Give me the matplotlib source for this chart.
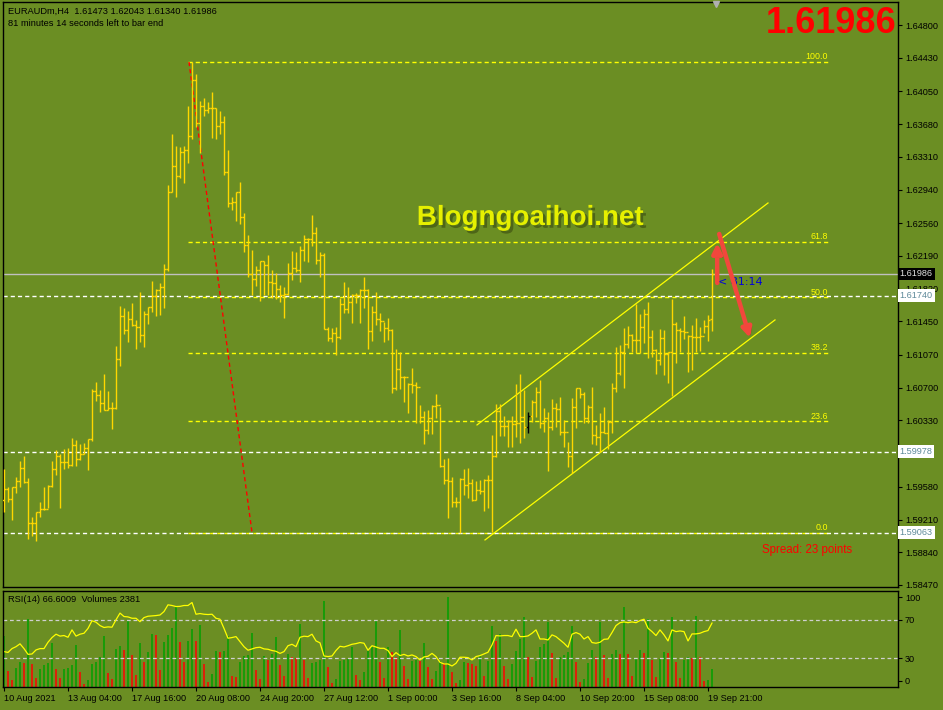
import matplotlib
matplotlib.use("Agg")
import matplotlib.pyplot as plt
import matplotlib.patheffects as pe
from matplotlib import transforms

plt.rcParams['font.family'] = ['Liberation Sans', 'DejaVu Sans']

# --- EURAUD H4 bars ---
highs = [
    1.59781, 1.59578, 1.59578, 1.59691, 1.59872, 1.59928, 1.59680, 1.59239, 1.59295, 1.59408,
    1.59578, 1.59601, 1.59872, 1.59996, 1.59951, 1.60007, 1.60019, 1.60132, 1.60109, 1.60064,
    1.60075, 1.60121, 1.60686, 1.60765, 1.60674, 1.60855, 1.60663, 1.60539, 1.61172, 1.61624,
    1.61601, 1.61568, 1.61658, 1.61466, 1.61782, 1.61568, 1.61613, 1.61907, 1.61816, 1.61884,
    1.62099, 1.62992, 1.63568, 1.63433, 1.63421, 1.63433, 1.63885, 1.64382, 1.64246, 1.63941,
    1.63975, 1.63930, 1.64043, 1.63862, 1.63828, 1.63772, 1.63387, 1.62856, 1.62913, 1.63026,
    1.62675, 1.62427, 1.62257, 1.62076, 1.62133, 1.62133, 1.62201, 1.62031, 1.61997, 1.61861,
    1.61839, 1.62110, 1.62246, 1.62234, 1.62302, 1.62427, 1.62393, 1.62653, 1.62517, 1.62234,
    1.62223, 1.61387, 1.61375, 1.61387, 1.61714, 1.61895, 1.61839, 1.61760, 1.61771, 1.61816,
    1.61952, 1.61816, 1.61624, 1.61782, 1.61545, 1.61443, 1.61488, 1.61364, 1.61138, 1.61104,
    1.60833, 1.60754, 1.60923, 1.60765, 1.60505, 1.60437, 1.60448, 1.60505, 1.60629, 1.60482,
    1.59895, 1.59906, 1.59691, 1.59465, 1.59680, 1.59781, 1.59793, 1.59668, 1.59646, 1.59657,
    1.59668, 1.59714, 1.60166, 1.60516, 1.60516, 1.60381, 1.60335, 1.60381, 1.60742, 1.60855,
    1.60674, 1.60426, 1.60561, 1.60708, 1.60788, 1.60471, 1.60426, 1.60573, 1.60528, 1.60595,
    1.60335, 1.60087, 1.60584, 1.60697, 1.60697, 1.60652, 1.60505, 1.60708, 1.60279, 1.60415,
    1.60482, 1.60335, 1.60754, 1.61161, 1.61183, 1.61375, 1.61398, 1.61308, 1.61647, 1.61534,
    1.61590, 1.61669, 1.61353, 1.61138, 1.61364, 1.61353, 1.61104, 1.61703, 1.61443, 1.61375,
    1.61511, 1.61296, 1.61409, 1.61488, 1.61387, 1.61466, 1.61522, 1.62043]
lows = [
    1.59295, 1.59408, 1.59205, 1.59510, 1.59578, 1.59623, 1.58990, 1.59024, 1.58968, 1.59239,
    1.59318, 1.59341, 1.59578, 1.59714, 1.59341, 1.59781, 1.59793, 1.59815, 1.59815, 1.59883,
    1.59951, 1.59770, 1.60098, 1.60550, 1.60426, 1.60448, 1.60448, 1.60234, 1.60460, 1.60946,
    1.61308, 1.61217, 1.61398, 1.61138, 1.61217, 1.61161, 1.61421, 1.61556, 1.61511, 1.61522,
    1.61601, 1.62020, 1.62913, 1.62856, 1.63071, 1.63014, 1.63240, 1.63512, 1.63647, 1.63354,
    1.63772, 1.63806, 1.63523, 1.63512, 1.63568, 1.63105, 1.62743, 1.62709, 1.62585, 1.62551,
    1.62234, 1.61952, 1.61748, 1.61850, 1.61681, 1.61748, 1.61748, 1.61714, 1.61703, 1.61669,
    1.61488, 1.61748, 1.61918, 1.62008, 1.61895, 1.62133, 1.62121, 1.62302, 1.62099, 1.61952,
    1.61364, 1.61228, 1.61217, 1.61070, 1.61251, 1.61545, 1.61545, 1.61432, 1.61658, 1.61432,
    1.61601, 1.61138, 1.61228, 1.61409, 1.61341, 1.61217, 1.61240, 1.60641, 1.60674, 1.60686,
    1.60539, 1.60415, 1.60641, 1.60301, 1.60301, 1.60064, 1.60177, 1.60177, 1.60358, 1.59804,
    1.59612, 1.59228, 1.59352, 1.59352, 1.59063, 1.59488, 1.59454, 1.59420, 1.59431, 1.59499,
    1.59307, 1.59341, 1.59070, 1.59917, 1.60155, 1.60155, 1.60030, 1.60030, 1.60143, 1.60075,
    1.60132, 1.60188, 1.60313, 1.60369, 1.60245, 1.60200, 1.59759, 1.60222, 1.60256, 1.60166,
    1.60030, 1.59804, 1.59736, 1.60245, 1.60584, 1.60301, 1.60301, 1.60064, 1.60053, 1.59974,
    1.60188, 1.60007, 1.60188, 1.60652, 1.60844, 1.60697, 1.61149, 1.61104, 1.61093, 1.61093,
    1.61206, 1.61036, 1.61048, 1.60855, 1.60957, 1.60844, 1.60754, 1.60607, 1.60980, 1.61104,
    1.61251, 1.60878, 1.60901, 1.61104, 1.61115, 1.61319, 1.61228, 1.61340]
closes = [
    1.59555, 1.59442, 1.59578, 1.59646, 1.59793, 1.59635, 1.59171, 1.59171, 1.59295, 1.59329,
    1.59329, 1.59589, 1.59781, 1.59928, 1.59861, 1.59861, 1.59827, 1.60053, 1.59895, 1.59951,
    1.60019, 1.60121, 1.60663, 1.60618, 1.60528, 1.60448, 1.60471, 1.60471, 1.61025, 1.61511,
    1.61353, 1.61477, 1.61409, 1.61387, 1.61296, 1.61534, 1.61613, 1.61737, 1.61805, 1.61839,
    1.62042, 1.62913, 1.63207, 1.63094, 1.63365, 1.63387, 1.63546, 1.64179, 1.63693, 1.63885,
    1.63840, 1.63862, 1.63862, 1.63659, 1.63704, 1.63139, 1.62788, 1.62800, 1.62913, 1.62630,
    1.62314, 1.61986, 1.61929, 1.62031, 1.62133, 1.62087, 1.61895, 1.61884, 1.61816, 1.61748,
    1.61760, 1.61997, 1.62054, 1.62031, 1.62257, 1.62381, 1.62381, 1.62449, 1.62144, 1.62201,
    1.61364, 1.61262, 1.61319, 1.61274, 1.61647, 1.61590, 1.61669, 1.61748, 1.61748, 1.61805,
    1.61805, 1.61341, 1.61556, 1.61477, 1.61454, 1.61375, 1.61353, 1.60697, 1.60912, 1.60821,
    1.60821, 1.60742, 1.60731, 1.60708, 1.60369, 1.60222, 1.60358, 1.60494, 1.60505, 1.59815,
    1.59657, 1.59646, 1.59408, 1.59408, 1.59668, 1.59601, 1.59623, 1.59431, 1.59544, 1.59533,
    1.59657, 1.59657, 1.59928, 1.60437, 1.60268, 1.60268, 1.60324, 1.60290, 1.60301, 1.60369,
    1.60256, 1.60381, 1.60539, 1.60652, 1.60301, 1.60358, 1.60256, 1.60471, 1.60460, 1.60200,
    1.60200, 1.59928, 1.60482, 1.60697, 1.60629, 1.60358, 1.60482, 1.60166, 1.60143, 1.60200,
    1.60188, 1.60313, 1.60697, 1.60867, 1.61104, 1.61194, 1.61296, 1.61240, 1.61240, 1.61387,
    1.61534, 1.61274, 1.61127, 1.61014, 1.61262, 1.61081, 1.61104, 1.61421, 1.61353, 1.61341,
    1.61330, 1.61285, 1.61274, 1.61274, 1.61285, 1.61398, 1.61466, 1.61986]
first_open = 1.59431
last_open = 1.61473
doji_bars = [131]  # the one bar drawn in black

rsi = [
    36.9, 36.0, 40.0, 42.0, 45.0, 40.0, 34.0, 34.4, 38.6, 40.0,
    40.0, 46.6, 51.5, 55.0, 53.0, 53.6, 51.8, 59.5, 53.0, 55.0,
    56.0, 61.0, 69.0, 67.5, 64.0, 62.0, 62.6, 62.3, 70.0, 77.0,
    73.4, 73.0, 71.6, 71.6, 68.0, 72.3, 73.7, 74.0, 74.4, 75.0,
    78.6, 85.6, 84.9, 83.8, 84.0, 84.9, 84.9, 88.0, 75.8, 76.5,
    75.8, 75.5, 75.8, 71.6, 70.6, 61.0, 50.8, 51.5, 52.5, 47.3,
    42.0, 38.3, 39.7, 41.0, 41.4, 39.7, 39.3, 38.0, 37.2, 35.0,
    36.9, 43.0, 44.5, 42.0, 51.8, 52.9, 52.5, 55.0, 48.0, 46.0,
    32.3, 31.7, 32.3, 38.0, 42.4, 41.7, 43.0, 44.5, 45.2, 46.3,
    45.6, 38.3, 43.0, 41.7, 40.3, 40.3, 38.0, 31.7, 35.8, 32.7,
    34.0, 32.3, 33.4, 31.7, 28.2, 31.3, 32.0, 35.0, 31.7, 25.7,
    24.0, 24.0, 21.9, 24.7, 31.0, 31.0, 30.6, 28.2, 31.7, 32.7,
    34.4, 36.2, 43.8, 53.6, 53.2, 53.6, 53.6, 52.5, 60.2, 52.5,
    52.5, 53.2, 56.0, 59.5, 50.0, 50.0, 49.0, 54.3, 52.5, 49.0,
    45.6, 41.4, 55.0, 56.7, 55.0, 50.0, 52.5, 46.3, 45.6, 46.6,
    49.7, 50.0, 56.7, 64.0, 67.0, 67.8, 67.0, 67.8, 67.0, 69.2,
    70.6, 61.2, 57.7, 53.6, 59.5, 54.3, 48.0, 59.5, 57.7, 58.4,
    57.7, 48.0, 55.3, 55.3, 56.0, 57.7, 58.8, 66.6]

volumes = [
    6730, 2110, 920, 2510, 3300, 3170, 8980, 3040, 1190, 2380,
    2900, 3170, 5810, 2380, 1190, 2380, 2510, 2900, 5540, 1980,
    400, 920, 3040, 3300, 3960, 6730, 1850, 1060, 5020, 5410,
    4880, 8710, 4220, 1580, 5810, 3300, 4620, 7000, 6860, 2240,
    5940, 6860, 7790, 10690, 5940, 3300, 6070, 7660, 6070, 8180,
    3040, 660, 1720, 4750, 4620, 4750, 6730, 1450, 1320, 3300,
    4090, 4220, 7130, 2240, 1060, 4090, 3560, 4360, 6600, 2900,
    1450, 4360, 3960, 3830, 8320, 3560, 1190, 3170, 3300, 3560,
    11350, 2640, 530, 1060, 3430, 3560, 3700, 5280, 1580, 920,
    1980, 4750, 5280, 8840, 3300, 1190, 5280, 4620, 3960, 7520,
    2770, 1060, 3430, 3560, 3430, 5810, 2640, 1060, 2110, 3430,
    3170, 11880, 1980, 530, 920, 3300, 3170, 3040, 2770, 4090,
    1450, 3430, 8050, 6070, 7000, 2770, 1060, 3040, 4750, 6340,
    9240, 3960, 1320, 3430, 5280, 5680, 8580, 4490, 1190, 3960,
    4220, 4620, 8050, 3300, 660, 1060, 3170, 4880, 3960, 8580,
    4220, 1190, 4360, 4880, 4360, 10560, 4360, 1450, 3830, 4880,
    4490, 8980, 3560, 1320, 3700, 4620, 4490, 9240, 3300, 1190,
    3560, 3960, 3830, 9370, 3960, 790, 920, 2381]

time_ticks = [0, 16, 32, 48, 64, 80, 96, 112, 128, 144, 160, 176]
time_labels = ['10 Aug 2021', '13 Aug 04:00', '17 Aug 16:00', '20 Aug 08:00',
               '24 Aug 20:00', '27 Aug 12:00', '1 Sep 00:00', '3 Sep 16:00',
               '8 Sep 04:00', '10 Sep 20:00', '15 Sep 08:00', '19 Sep 21:00']
price_ticks = [1.64800, 1.64430, 1.64050, 1.63680, 1.63310, 1.62940, 1.62560, 1.62190,
               1.61820, 1.61450, 1.61070, 1.60700, 1.60330, 1.59960, 1.59580, 1.59210,
               1.58840, 1.58470]
hidden_ticks = [1.59960]  # label fully covered by the 1.59978 box in the screenshot

# drawing objects on the chart
fib_high, fib_low = 1.64382, 1.59063
fib_start, fib_end = 46, 206.5
fib_levels = [100.0, 61.8, 50.0, 38.2, 23.6, 0.0]
fib_trend = ([46.25, 62.0], [1.64382, 1.59063])
channel_upper = ([118.25, 191.0], [1.60279, 1.62788])
channel_lower = ([120.25, 192.75], [1.58979, 1.61466])
white_levels = [1.61740, 1.59978, 1.59063]
bid = 1.61986
arrow_up = ((178.3, 1.61884), (178.3, 1.62336))
arrow_down = ((178.8, 1.62438), (186.5, 1.61262))

BG = '#6b8e23'
BAR = '#ffd700'

n = len(closes)
xs = list(range(n))
opens = [first_open] + closes[:-1]
opens[-1] = last_open

fig = plt.figure(figsize=(9.43, 7.10), dpi=100, facecolor=BG)
ax = fig.add_axes([3 / 943, 123 / 710, 895 / 943, 585 / 710], facecolor=BG)
ax2 = fig.add_axes([3 / 943, 23 / 710, 895 / 943, 96 / 710], facecolor=BG)

# --- price bars ---
bar_cols = ['black' if i in doji_bars else BAR for i in xs]
ax.vlines(xs, lows, highs, colors=bar_cols, lw=1.0, zorder=4)
ax.hlines(opens, [x - 0.45 for x in xs], xs, colors=bar_cols, lw=1.0, zorder=4)
ax.hlines(closes, xs, [x + 0.45 for x in xs], colors=bar_cols, lw=1.0, zorder=4)

# fibonacci retracement
for lvl in fib_levels:
    price = fib_low + (fib_high - fib_low) * lvl / 100
    ax.plot([fib_start, fib_end], [price, price], color='#ffff00', lw=1.0,
            dashes=(3, 2.2), zorder=2)
    ax.text(fib_end - 0.5, price + 0.00008, f'{lvl:.1f}', color='#ffff00',
            fontsize=6.4, ha='right', va='bottom', zorder=5)
ax.plot(fib_trend[0], fib_trend[1], color='#ff0000', lw=1.0, dashes=(3, 2.2), zorder=3)

# horizontal levels
for lvl in white_levels:
    ax.axhline(lvl, color='white', lw=1.0, dashes=(3, 2.2), zorder=2)
ax.axhline(bid, color='#c0c0c0', lw=1.0, zorder=2)

# channel
ax.plot(channel_upper[0], channel_upper[1], color='#ffff00', lw=0.9, zorder=3)
ax.plot(channel_lower[0], channel_lower[1], color='#ffff00', lw=0.9, zorder=3)

# arrows
for (start, end) in [arrow_up, arrow_down]:
    ann = ax.annotate('', xy=end, xytext=start,
                      arrowprops=dict(arrowstyle='-|>', color='#f2473c', lw=3.2,
                                      mutation_scale=14, shrinkA=0, shrinkB=0),
                      zorder=7)
    ann.arrow_patch.set_path_effects([pe.SimplePatchShadow(offset=(1.5, -1.5), alpha=0.35), pe.Normal()])

ax.text(178.6, 1.61900, '< 81:14', color='#0000dd', fontsize=8, family='DejaVu Sans',
        va='center', ha='left', zorder=6)

ax.set_xlim(-0.25, 223.5)
ax.set_ylim(1.58447, 1.65060)
ax.yaxis.tick_right()
ax.set_yticks(price_ticks)
ax.set_yticklabels(['' if p in hidden_ticks else f'{p:.5f}' for p in price_ticks], fontsize=6.6)
ax.tick_params(axis='y', length=3, width=0.8, pad=2, colors='black')
ax.set_xticks([])
for s in ax.spines.values():
    s.set_color('black')
    s.set_linewidth(1.0)

# price boxes on the right axis
trans = transforms.blended_transform_factory(ax.transAxes, ax.transData)
ax.text(1.002, bid, f'{bid:.5f}', transform=trans, fontsize=6.6, color='#e0e0e0',
        va='center', ha='left', zorder=10, clip_on=False,
        bbox=dict(facecolor='black', edgecolor='none', pad=1.3))
for lvl in white_levels:
    ax.text(1.002, lvl, f'{lvl:.5f}', transform=trans, fontsize=6.6, color='#5f8a9a',
            va='center', ha='left', zorder=10, clip_on=False,
            bbox=dict(facecolor='white', edgecolor='none', pad=1.3))

# shift marker
ax.plot([178], [0.997], transform=transforms.blended_transform_factory(ax.transData, ax.transAxes),
        marker='v', color='#b0b0b0', markersize=5, clip_on=False, zorder=8)

# --- RSI + volumes panel ---
axv = ax2.twinx()
vol_cols = ['#00a000' if i == 0 or volumes[i] > volumes[i - 1] else '#ff0000' for i in xs]
axv.vlines(xs, 0, volumes, colors=vol_cols, lw=1.1)
axv.set_ylim(0, 12672)
axv.set_yticks([])
axv.set_xlim(-0.25, 223.5)
for s in axv.spines.values():
    s.set_visible(False)

ax2.set_zorder(axv.get_zorder() + 1)
ax2.patch.set_visible(False)
axv.patch.set_facecolor(BG)
axv.patch.set_visible(True)
ax2.axhline(70, color='#d0d0d0', lw=0.9, dashes=(3, 2.2))
ax2.axhline(30, color='#d0d0d0', lw=0.9, dashes=(3, 2.2))
ax2.plot(xs, rsi, color='#ffff00', lw=0.9)
ax2.set_xlim(-0.25, 223.5)
ax2.set_ylim(0, 100)
ax2.yaxis.tick_right()
ax2.set_yticks([93.5, 70, 30, 6.5])
ax2.set_yticklabels(['100', '70', '30', '0'], fontsize=6.6)
ax2.tick_params(axis='y', length=3, width=0.8, pad=2)
ax2.set_xticks(time_ticks)
ax2.set_xticklabels(time_labels, fontsize=6.6, ha='left')
ax2.tick_params(axis='x', length=3, width=0.8, pad=2)
for s in ax2.spines.values():
    s.set_color('black')
    s.set_linewidth(1.0)

# --- texts ---
fig.text(8 / 943, 1 - 11 / 710, 'EURAUDm,H4  1.61473 1.62043 1.61340 1.61986',
         fontsize=6.7, color='black', va='center', ha='left')
fig.text(8 / 943, 1 - 24 / 710, '81 minutes 14 seconds left to bar end',
         fontsize=6.7, color='black', va='center', ha='left')
fig.text(896 / 943, 1 - 6 / 710, '1.61986', fontsize=26, fontweight='bold',
         color='#ff0000', va='top', ha='right')
fig.text(530 / 943, 1 - 218 / 710, 'Blogngoaihoi.net', fontsize=20, fontweight='bold',
         color='#e6f000', va='center', ha='center',
         path_effects=[pe.withSimplePatchShadow(offset=(2, -2), shadow_rgbFace='#3a4a10', alpha=0.6)])
fig.text(762 / 943, 1 - 550 / 710, 'Spread: 23 points', fontsize=8.3, color='#ff0000',
         va='center', ha='left')
fig.text(8 / 943, 1 - 600 / 710, 'RSI(14) 66.6009  Volumes 2381', fontsize=6.7,
         color='black', va='center', ha='left')

fig.savefig('out.png', dpi=100, facecolor=BG)
